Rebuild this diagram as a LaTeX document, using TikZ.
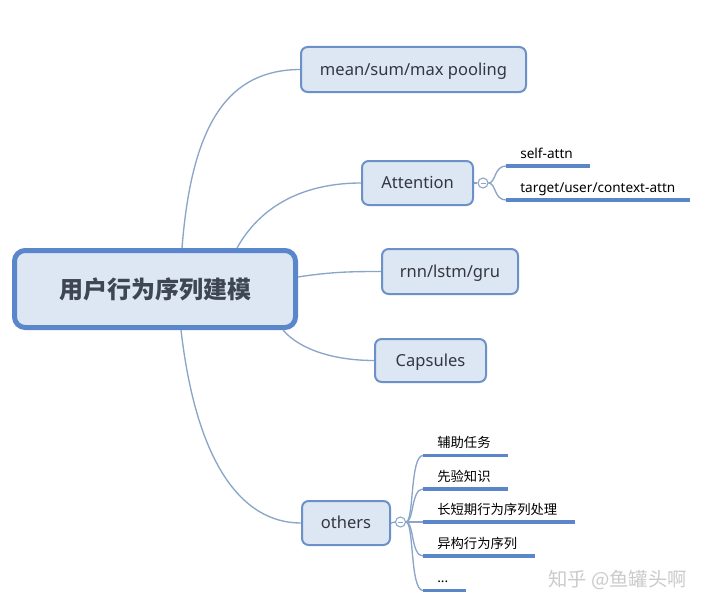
\documentclass[tikz,border=0pt]{standalone}
\usepackage{fontspec}
\setmainfont{Noto Sans}
\newfontfamily\cjk{Noto Sans CJK SC}
\usetikzlibrary{calc}
\definecolor{boxborder}{HTML}{6C91C9}
\definecolor{boxfill}{HTML}{DDE6F3}
\definecolor{mainborder}{HTML}{5A86CC}
\definecolor{link}{HTML}{8BA5C9}
\definecolor{uline}{HTML}{5B87C8}
\definecolor{txt}{HTML}{333840}
\definecolor{maintxt}{HTML}{3E4654}
\definecolor{wm}{HTML}{CBCBCB}
\begin{document}
\begin{tikzpicture}[x=0.75pt,y=-0.75pt,
  topicbox/.style={draw=boxborder, fill=boxfill, line width=1.5pt, rounded corners=5pt,
    text=txt, font=\fontsize{12.4}{15}\selectfont, inner sep=0pt,
    text height=8.9pt, text depth=0pt},
  mainbox/.style={draw=mainborder, fill=boxfill, line width=3.75pt, rounded corners=8pt,
    text=maintxt, font=\cjk\bfseries\fontsize{18}{22}\selectfont, inner sep=0pt,
    minimum width=281*0.75pt, minimum height=77*0.75pt},
  link/.style={draw=link, line width=1pt},
  uline/.style={draw=uline, line width=2.4pt},
  collapse/.style={circle, draw=link, fill=white, line width=0.8pt, minimum size=10*0.75pt, inner sep=0pt},
  leaf/.style={anchor=base west, inner sep=0pt, text=black, font=\fontsize{10.2}{12}\selectfont},
  cjkleaf/.style={anchor=base west, inner sep=0pt, text=black, font=\cjk\fontsize{10}{12}\selectfont}
]
\useasboundingbox (0,0) rectangle (720,610);
\fill[white] (0,0) rectangle (720,610);

\node[mainbox] (c) at (155,289) {用户行为序列建模};
\node[topicbox, minimum width=225*0.75pt, minimum height=45*0.75pt] (m) at (413.5,69.5) {mean/sum/max pooling};
\node[topicbox, minimum width=111*0.75pt, minimum height=44*0.75pt] (a) at (417.5,183) {Attention};
\node[topicbox, minimum width=136*0.75pt, minimum height=45*0.75pt] (r) at (450,271.5) {rnn/lstm/gru};
\node[topicbox, minimum width=111*0.75pt, minimum height=43*0.75pt] (p) at (430.5,360.5) {Capsules};
\node[topicbox, minimum width=88*0.75pt, minimum height=44*0.75pt] (o) at (346,523) {others};

% connectors from the central topic
\coordinate (s1) at (182,248);
\coordinate (s2) at (237,248);
\coordinate (s3) at (298,277);
\coordinate (s4) at (283,330);
\coordinate (s5) at (181,330);
\draw[link] (s1) .. controls (192,120) and (230,70) .. (m.west);
\draw[link] (s2) .. controls (265,198) and (315,183) .. (a.west);
\draw[link] (s3) .. controls (330,272) and (350,271.5) .. (r.west);
\draw[link] (s4) .. controls (300,350) and (335,360.5) .. (p.west);
\draw[link] (s5) .. controls (196,460) and (240,523) .. (o.west);

% Attention children
\node[collapse] (ca) at (483,183) {};
\draw[link] (a.east) -- (ca.west);
\draw[link, line width=0.7pt] ($(ca.center)+(-2.5,0)$) -- ($(ca.center)+(2.5,0)$);
\coordinate (a1) at (506,166); \coordinate (a1e) at (590,166);
\coordinate (a2) at (506,200); \coordinate (a2e) at (690,200);
\draw[link] (ca.east) .. controls (496,183) and (494,166) .. (a1);
\draw[link] (ca.east) .. controls (496,183) and (494,200) .. (a2);
\draw[uline] (a1) -- (a1e);
\draw[uline] (a2) -- (a2e);
\node[leaf] (t1) at (520,158) {self-attn};
\node[leaf] (t2) at (520,192) {target/user/context-attn};

% others children
\node[collapse] (co) at (400.5,522) {};
\draw[link] (o.east) -- (co.west);
\draw[link, line width=0.7pt] ($(co.center)+(-2.5,0)$) -- ($(co.center)+(2.5,0)$);
\coordinate (o1) at (423,455.5); \coordinate (o1e) at (508,455.5);
\coordinate (o2) at (423,489);   \coordinate (o2e) at (508,489);
\coordinate (o3) at (423,522);   \coordinate (o3e) at (575,522);
\coordinate (o4) at (423,556);   \coordinate (o4e) at (535,556);
\coordinate (o5) at (423,590.5); \coordinate (o5e) at (466,590.5);
\draw[link] (co.east) .. controls (414,522) and (410,455.5) .. (o1);
\draw[link] (co.east) .. controls (414,522) and (411,489) .. (o2);
\draw[link] (co.east) -- (o3);
\draw[link] (co.east) .. controls (414,522) and (411,556) .. (o4);
\draw[link] (co.east) .. controls (414,522) and (410,590.5) .. (o5);
\draw[uline] (o1) -- (o1e);
\draw[uline] (o2) -- (o2e);
\draw[uline] (o3) -- (o3e);
\draw[uline] (o4) -- (o4e);
\draw[uline] (o5) -- (o5e);
\node[cjkleaf] (u1) at (437,447) {辅助任务};
\node[cjkleaf] (u2) at (437,481) {先验知识};
\node[cjkleaf] (u3) at (437,514) {长短期行为序列处理};
\node[cjkleaf] (u4) at (437,548) {异构行为序列};
\node[leaf] (u5) at (437,582) {...};

% watermark
\node[anchor=west, inner sep=0pt, text=wm, font=\cjk\fontsize{14.5}{16}\selectfont] (wmk) at (548,580) {知乎 @鱼罐头啊};
\end{tikzpicture}
\end{document}
